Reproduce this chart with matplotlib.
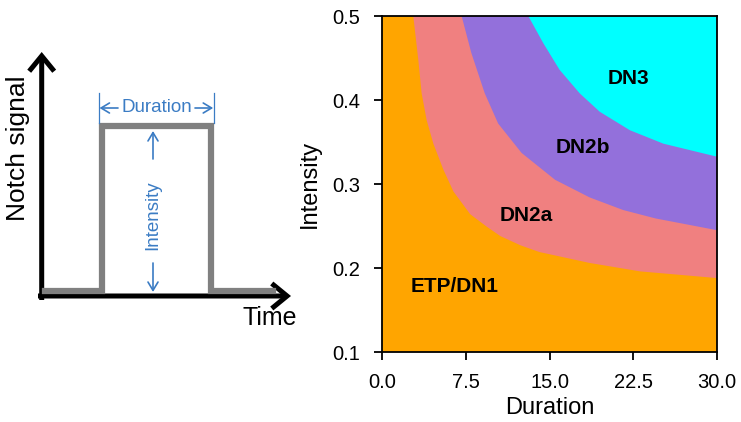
import numpy as np
import matplotlib.pyplot as plt
from matplotlib.patches import FancyArrowPatch

plt.rcParams['font.family'] = ['Liberation Sans', 'DejaVu Sans']

# region boundaries (duration, intensity)
b1_dur = [2.8, 3.25, 3.55, 4.0, 4.6, 5.5, 6.4, 7.9, 9.4, 10.6, 12.4, 14.1, 18.6, 23.1, 30.0]
b1_int = [0.5, 0.448, 0.408, 0.376, 0.348, 0.317, 0.291, 0.264, 0.249, 0.238, 0.227, 0.219, 0.206, 0.196, 0.188]
b2_dur = [7.13, 8.0, 9.2, 10.4, 12.5, 15.5, 18.6, 21.6, 24.5, 30.0]
b2_int = [0.5, 0.456, 0.408, 0.372, 0.337, 0.305, 0.284, 0.269, 0.259, 0.245]
b3_dur = [13.1, 14.45, 15.9, 17.7, 19.5, 22.2, 25.2, 30.0]
b3_int = [0.5, 0.4675, 0.436, 0.408, 0.386, 0.364, 0.348, 0.3325]

stages = ['ETP/DN1', 'DN2a', 'DN2b', 'DN3']
stage_colors = ['orange', 'lightcoral', 'mediumpurple', 'cyan']
label_dur = [6.5, 12.95, 18.0, 22.1]
label_int = [0.178, 0.263, 0.344, 0.426]

xticks = [0.0, 7.5, 15.0, 22.5, 30.0]
yticks = [0.1, 0.2, 0.3, 0.4, 0.5]

# schematic pulse, in pixel units of the left panel (y up)
pulse_t = [45, 102, 102, 210.7, 210.7, 273]
pulse_s = [131, 131, 296, 296, 131, 131]

blue = '#3b7cc4'

fig = plt.figure(figsize=(7.41, 4.22), dpi=100)

# ---- left: schematic
axl = fig.add_axes([0, 0, 300 / 741, 1])
axl.set_xlim(0, 300)
axl.set_ylim(0, 422)
axl.axis('off')

axl.plot(pulse_t, pulse_s, color='#808080', lw=4.5, solid_joinstyle='miter')

for (x0, y0, x1, y1) in [(41.7, 122, 41.7, 370), (38, 126, 291, 126)]:
    axl.add_patch(FancyArrowPatch((x0, y0), (x1, y1), arrowstyle='->,head_length=0.55,head_width=0.45',
                                  mutation_scale=20, lw=3.6, color='black', joinstyle='miter',
                                  capstyle='butt', shrinkA=0, shrinkB=0))

def small_arrow(p0, p1):
    axl.add_patch(FancyArrowPatch(p0, p1, arrowstyle='->,head_length=0.5,head_width=0.3',
                                  mutation_scale=12, lw=1.2, color=blue, shrinkA=0, shrinkB=0))

# duration marker
for xv in [99, 213.7]:
    axl.plot([xv, xv], [299, 329], color=blue, lw=0.9)
axl.text(156.5, 314, 'Duration', color=blue, fontsize=13.5, ha='center', va='center')
small_arrow((118, 314), (99.5, 314))
small_arrow((195, 314), (213.2, 314))

# intensity marker
axl.text(153, 207, 'Intensity', color=blue, fontsize=13.5, rotation=90, ha='center', va='center')
small_arrow((153, 263), (153, 291))
small_arrow((153, 159), (153, 130))

axl.text(18, 274, 'Notch signal', fontsize=19, rotation=90, ha='center', va='center')
axl.text(270, 104, 'Time', fontsize=18, ha='center', va='center')

# ---- right: phase diagram
ax = fig.add_axes([382 / 741, 1 - 352 / 422, 335 / 741, 336 / 422])
ax.set_xlim(0, 30)
ax.set_ylim(0.1, 0.5)
ax.set_facecolor(stage_colors[0])
for bd, bi, c in zip([b1_dur, b2_dur, b3_dur], [b1_int, b2_int, b3_int], stage_colors[1:]):
    ax.fill(bd + [30.0], bi + [0.5], color=c, lw=0)

for s, x, y in zip(stages, label_dur, label_int):
    ax.text(x, y, s, fontsize=15, fontweight='bold', ha='center', va='center')

ax.set_xticks(xticks)
ax.set_xticklabels(['%.1f' % v for v in xticks])
ax.set_yticks(yticks)
ax.set_yticklabels(['%.1f' % v for v in yticks])
ax.tick_params(labelsize=14.5, length=6, width=1.3)
ax.tick_params(axis='x', pad=9)
ax.tick_params(axis='y', pad=10)
for sp in ax.spines.values():
    sp.set_linewidth(1.3)
ax.set_xlabel('Duration', fontsize=17)
ax.set_ylabel('Intensity', fontsize=17, labelpad=8)

fig.savefig('out.png', dpi=100)
